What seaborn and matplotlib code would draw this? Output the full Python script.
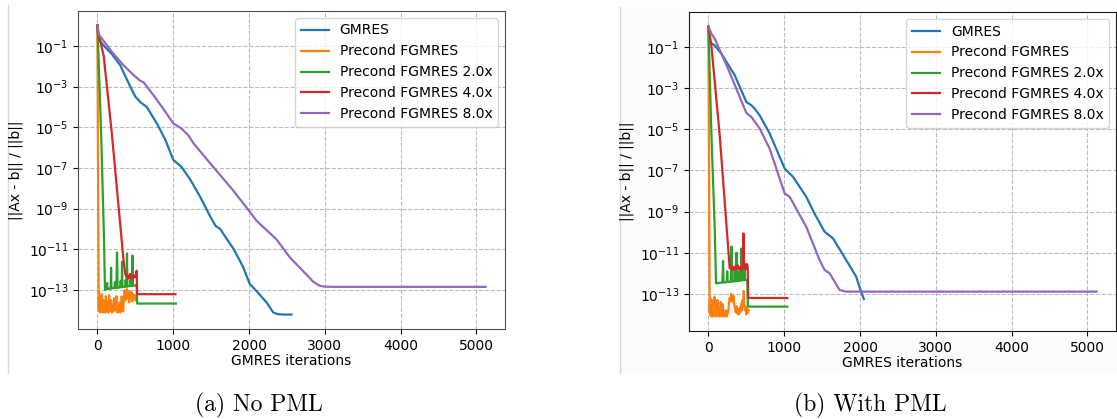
import matplotlib
matplotlib.use("Agg")
import numpy as np
import matplotlib.pyplot as plt
import seaborn as sns
from matplotlib.lines import Line2D
from matplotlib.patches import Rectangle
from matplotlib.ticker import NullLocator

# series names (legend order)
solvers = ["GMRES", "Precond FGMRES", "Precond FGMRES 2.0x",
           "Precond FGMRES 4.0x", "Precond FGMRES 8.0x"]
captions = ["(a) No PML", "(b) With PML"]

# ---- (a) No PML : iterations and log10(residual) ----
a_gmres_it = [0, 10, 40, 110, 190, 300, 420, 500, 570, 650, 790, 900, 1000, 1110, 1230,
              1360, 1490, 1560, 1620, 1700, 1800, 1920, 2010, 2100, 2230, 2320, 2380, 2450, 2560]
a_gmres_res = [0.0, -0.45, -0.8, -1.1, -1.4, -1.95, -2.9, -3.5, -3.78, -4.0, -4.85, -5.65, -6.6,
               -6.95, -7.6, -8.45, -9.4, -9.85, -10.0, -10.45, -11.0, -11.85, -12.7, -13.05,
               -13.6, -14.1, -14.18, -14.2, -14.2]

a_pre_it = [0, 17, 22, 28, 34, 40, 47, 54, 60, 67, 74, 80, 88, 96, 104, 112, 120, 128, 136, 145,
            154, 163, 172, 181, 190, 200, 210, 220, 230, 240, 250, 260, 270, 280, 290, 300, 310,
            320, 330, 340, 350, 360, 370, 380, 390, 400, 410, 420, 430, 440, 450, 460, 470, 480,
            490, 500, 510, 522]
a_pre_res = [0.0, -13.9, -13.1, -14.05, -13.3, -14.1, -13.6, -14.0, -13.2, -13.9, -14.1, -13.5,
             -14.05, -13.7, -14.1, -13.3, -13.9, -14.05, -13.6, -14.1, -13.25, -13.8, -14.0, -13.5,
             -14.1, -13.9, -14.05, -13.4, -13.75, -14.0, -13.3, -14.1, -13.9, -14.05, -13.6, -14.1,
             -14.0, -13.3, -13.8, -14.05, -13.4, -13.0, -13.5, -13.2, -12.95, -13.4, -13.1, -13.6,
             -13.05, -13.35, -13.1, -13.55, -13.2, -13.4, -13.25, -13.5, -13.3, -13.55]

a_2x_it = [0, 50, 85, 100, 120, 128, 135, 160, 175, 180, 185, 210, 225, 230, 250, 259, 266, 290,
           300, 306, 320, 325, 330, 355, 365, 372, 385, 390, 396, 420, 430, 436, 455, 462, 468,
           490, 505, 518, 524, 1035]
a_2x_res = [0.0, -5.4, -10.2, -13.0, -12.95, -12.65, -12.95, -12.93, -12.92, -11.9, -12.92, -12.9,
            -12.9, -12.6, -12.9, -11.15, -12.88, -12.87, -12.86, -12.55, -12.86, -11.6, -12.85,
            -12.84, -12.83, -12.5, -12.83, -11.2, -12.82, -12.8, -12.8, -12.5, -12.8, -11.3,
            -12.78, -12.78, -12.75, -12.75, -13.66, -13.66]

a_4x_it = [0, 10, 40, 83, 190, 346, 368, 380, 390, 400, 410, 420, 430, 440, 450, 460, 470, 480,
           490, 500, 510, 518, 524, 1030]
a_4x_res = [0.0, -0.35, -0.8, -1.5, -5.3, -11.6, -12.2, -12.35, -12.25, -12.45, -12.3, -12.4,
            -12.2, -12.45, -12.3, -12.35, -12.25, -12.4, -12.3, -12.35, -12.2, -12.05, -13.2, -13.2]

a_8x_it = [0, 20, 80, 190, 330, 480, 560, 610, 740, 870, 1000, 1110, 1200, 1270, 1530, 1790,
           2010, 2100, 2230, 2360, 2540, 2670, 2850, 2930, 3000, 3110, 5120]
a_8x_res = [0.0, -0.45, -0.75, -1.3, -1.9, -2.45, -2.7, -2.8, -3.43, -4.1, -4.8, -5.07, -5.4,
            -5.8, -6.96, -8.1, -9.15, -9.6, -10.05, -10.5, -11.4, -11.9, -12.6, -12.78, -12.83,
            -12.84, -12.84]

# ---- (b) With PML ----
b_gmres_it = [0, 17, 83, 171, 347, 500, 567, 610, 676, 808, 1006, 1116, 1291, 1400, 1533, 1643,
              1818, 1950, 2000, 2050]
b_gmres_res = [0.0, -0.76, -0.92, -1.32, -2.37, -3.67, -3.83, -3.99, -4.32, -5.2, -6.91, -7.31,
               -8.28, -9.1, -9.98, -10.3, -11.36, -12.17, -12.75, -13.25]

b_pre_it = [0, 17, 22, 28, 34, 40, 47, 54, 60, 67, 74, 80, 88, 96, 104, 112, 120, 128, 136, 145,
            154, 163, 172, 181, 190, 200, 210, 220, 230, 240, 250, 260, 270, 280, 290, 300, 310,
            320, 330, 340, 350, 360, 370, 380, 390, 400, 410, 420, 430, 440, 450, 460, 466, 472,
            480, 490, 500, 510, 520, 531]
b_pre_res = [0.0, -13.9, -13.2, -14.05, -13.6, -14.1, -13.3, -13.95, -14.1, -13.5, -14.0, -13.15,
             -13.9, -14.1, -13.6, -14.05, -13.3, -13.95, -14.1, -13.7, -14.05, -13.4, -14.1, -13.9,
             -13.5, -14.1, -13.95, -14.05, -13.8, -14.1, -14.0, -13.9, -13.5, -13.2, -13.35, -13.0,
             -13.25, -13.4, -13.1, -13.5, -13.7, -13.9, -13.6, -13.95, -13.8, -14.0, -13.7, -13.9,
             -13.5, -13.8, -13.3, -13.6, -12.86, -13.5, -13.8, -13.6, -14.0, -13.7, -13.9, -13.8]

b_2x_it = [0, 40, 85, 100, 150, 185, 193, 200, 240, 248, 255, 295, 303, 310, 340, 347, 354, 362,
           369, 376, 400, 407, 414, 428, 435, 442, 460, 470, 476, 482, 505, 514, 520, 1041]
b_2x_res = [0.0, -5.3, -10.0, -12.49, -12.46, -12.45, -11.4, -12.45, -12.43, -11.9, -12.42,
            -12.41, -10.7, -12.4, -12.39, -11.8, -12.38, -12.38, -11.0, -12.37, -12.36, -11.9,
            -12.36, -12.35, -10.8, -12.34, -12.33, -12.33, -11.5, -12.33, -12.33, -12.33, -13.62,
            -13.62]

b_4x_it = [0, 39, 149, 281, 295, 310, 325, 340, 355, 370, 385, 400, 415, 430, 445, 455, 462, 468,
           480, 495, 510, 518, 524, 1041]
b_4x_res = [0.0, -0.92, -5.29, -11.76, -11.65, -11.8, -11.7, -11.85, -11.65, -11.75, -11.6, -11.8,
            -11.7, -11.85, -11.65, -11.75, -10.06, -11.75, -11.6, -11.8, -11.55, -11.7, -13.2,
            -13.2]

b_8x_it = [0, 39, 83, 171, 259, 500, 567, 676, 808, 1006, 1072, 1291, 1467, 1533, 1599, 1730,
           1818, 5120]
b_8x_res = [0.0, -0.35, -0.59, -1.32, -2.05, -4.2, -4.4, -4.96, -5.94, -8.12, -8.28, -9.74,
            -11.36, -11.84, -12.0, -12.81, -12.89, -12.89]

panel_a = [(a_gmres_it, a_gmres_res), (a_pre_it, a_pre_res), (a_2x_it, a_2x_res),
           (a_4x_it, a_4x_res), (a_8x_it, a_8x_res)]
panel_b = [(b_gmres_it, b_gmres_res), (b_pre_it, b_pre_res), (b_2x_it, b_2x_res),
           (b_4x_it, b_4x_res), (b_8x_it, b_8x_res)]

colors = sns.color_palette("tab10", 5)

fig = plt.figure(figsize=(11.17, 4.19), dpi=100)

# light backdrop of the second embedded figure and thin page separators
fig.patches.append(Rectangle((620 / 1117, 1 - 373 / 419), 497 / 1117, 366 / 419,
                             transform=fig.transFigure, facecolor="#fbfbfb",
                             edgecolor="none", zorder=-5))
for xp, y0 in [(8, 5), (620, 7)]:
    fig.add_artist(Line2D([xp / 1117, xp / 1117], [1 - 373 / 419, 1 - y0 / 419],
                          transform=fig.transFigure, color="#d9d9d9", lw=1, zorder=-4))

ax_a = fig.add_axes([78 / 1117, 1 - 329 / 419, 427 / 1117, 318 / 419])
ax_b = fig.add_axes([689 / 1117, 1 - 331 / 419, 427 / 1117, 319 / 419])

for ax, panel, spine_col in [(ax_a, panel_a, "0.3"), (ax_b, panel_b, "0.1")]:
    ax.set_facecolor("white")
    for (it, res), name, col in zip(panel, solvers, colors):
        sns.lineplot(x=it, y=10.0 ** np.array(res), ax=ax, color=col, label=name,
                     linewidth=1.6, estimator=None, sort=False)
    ax.set_yscale("log")
    ax.set_yticks([10.0 ** e for e in range(-1, -14, -2)])
    ax.yaxis.set_minor_locator(NullLocator())
    ax.set_xticks([0, 1000, 2000, 3000, 4000, 5000])
    ax.grid(True, linestyle="--", color="#bbbbbb", linewidth=0.8)
    ax.set_xlabel("GMRES iterations", fontsize=10, labelpad=1)
    ax.set_ylabel("||Ax - b|| / ||b||", fontsize=10)
    ax.tick_params(labelsize=10)
    for s in ax.spines.values():
        s.set_color(spine_col)
    ax.legend(loc="upper right", fontsize=10)

fig.text(259 / 1117, 1 - 405 / 419, captions[0], fontfamily="cmr10", fontsize=17,
         ha="center", va="center")
fig.text(870 / 1117, 1 - 405 / 419, captions[1], fontfamily="cmr10", fontsize=17,
         ha="center", va="center")

fig.savefig("out.png", dpi=100)
